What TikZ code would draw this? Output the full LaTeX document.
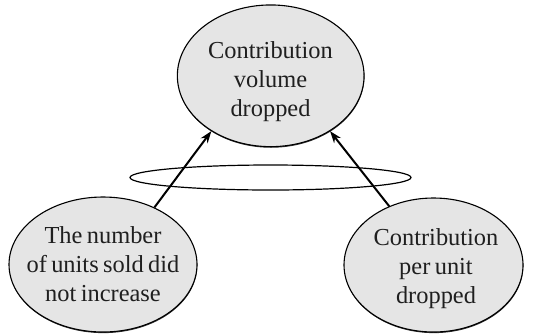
\documentclass[tikz,border=0pt]{standalone}
\usepackage{fontspec}
\setmainfont{Liberation Serif}
\usetikzlibrary{shapes.geometric,arrows.meta,shadows}
% text inside the bubbles: large serif with slightly tight word spacing
\newcommand\bubblefont{\fontsize{24.5}{29}\selectfont\spaceskip=0.18em\relax}
\begin{document}
\begin{tikzpicture}[x=1bp,y=-1bp,
  bubble/.style={ellipse,draw=black,line width=1.1bp,fill=black!10,inner sep=0pt,
    drop shadow={opacity=1,fill=black!80,shadow xshift=0.3bp,shadow yshift=-1.1bp}},
  words/.style={align=center,inner sep=0pt,text=black!88,font=\bubblefont},
  ring/.style={ellipse,draw=black,line width=1.2bp,inner sep=0pt},
  link/.style={line width=2bp,-{Stealth[length=12bp,width=8.5bp]}}]
\useasboundingbox (0,0) rectangle (533,333);
% the three cause/effect bubbles
\node[bubble,minimum width=186.7bp,minimum height=141.7bp] (top) at (270.7,75.8) {};
\node[words] (topText) at (270.5,82) {Contribution\\volume\\dropped};
\node[bubble,minimum width=188bp,minimum height=135bp] (left) at (103,264.5) {};
\node[words] (leftText) at (103,264) {The number\\of units sold did\\not increase};
\node[bubble,minimum width=179bp,minimum height=134bp] (right) at (433.5,265) {};
\node[words] (rightText) at (436,269) {Contribution\\per unit\\dropped};
% the flat ring the arrows pass through
\node[ring,minimum width=281bp,minimum height=25bp] (band) at (270.5,177.5) {};
\draw[link] (left.48) -- (top.223);
\draw[link] (right.127) -- (top.317.5);
\end{tikzpicture}
\end{document}
